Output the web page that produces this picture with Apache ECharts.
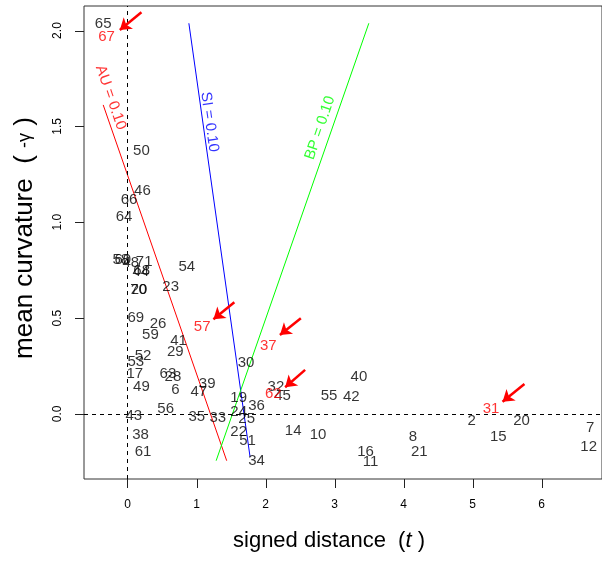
<!DOCTYPE html>
<html>
<head>
<meta charset="utf-8">
<script src="https://cdn.jsdelivr.net/npm/echarts@6/dist/echarts.min.js"></script>
<style>html,body{margin:0;padding:0;background:#fff}#c{width:602px;height:561px}</style>
</head>
<body>
<div id="c"></div>
<script>
// ---- data ----
const xTicks = [0, 1, 2, 3, 4, 5, 6];
const yTicks = [0, 0.5, 1.0, 1.5, 2.0];

const pointLabels = ['65','50','46','66','64','58','60','48','71','44','68','54','23','70','20','69','26','59','41','29','52','53','17','63','28','49','6','47','39','43','56','35','33','38','61','30','19','32','45','36','24','25','22','51','34','14','10','55','42','40','16','11','2','20','8','15','21','7','12'];
const pointX = [-0.352,0.202,0.216,0.023,-0.049,-0.097,-0.068,0.048,0.242,0.192,0.206,0.860,0.625,0.159,0.167,0.120,0.442,0.332,0.740,0.693,0.225,0.120,0.105,0.586,0.658,0.202,0.693,1.033,1.154,0.091,0.553,1.004,1.307,0.188,0.225,1.717,1.610,2.150,2.245,1.870,1.610,1.726,1.610,1.740,1.870,2.400,2.760,2.919,3.241,3.352,3.449,3.521,4.987,5.709,4.136,5.372,4.228,6.704,6.681];
const pointY = [2.034,1.372,1.163,1.116,1.029,0.803,0.803,0.788,0.793,0.741,0.746,0.768,0.661,0.648,0.645,0.502,0.468,0.412,0.382,0.322,0.304,0.270,0.209,0.209,0.195,0.142,0.125,0.116,0.156,-0.010,0.026,-0.017,-0.022,-0.110,-0.197,0.266,0.085,0.139,0.095,0.042,0.012,-0.026,-0.092,-0.139,-0.245,-0.089,-0.110,0.094,0.090,0.191,-0.197,-0.252,-0.037,-0.037,-0.118,-0.118,-0.200,-0.071,-0.171];

const redLabels = ['67','57','37','62','31'];
const redX = [-0.303,1.082,2.039,2.111,5.267];
const redY = [1.968,0.455,0.355,0.103,0.025];

const arrowTail = [[0.202,2.095],[1.548,0.583],[2.511,0.499],[2.573,0.230],[5.750,0.156]];
const arrowTip  = [[-0.111,2.003],[1.245,0.494],[2.208,0.412],[2.284,0.139],[5.433,0.064]];

const auLine = [[-0.352,1.612],[1.437,-0.244]];
const siLine = [[0.889,2.038],[1.775,-0.223]];
const bpLine = [[3.496,2.038],[1.284,-0.244]];

const lineLabelText = ['AU = 0.10','SI = 0.10','BP = 0.10'];
const lineLabelX = [-0.244,1.188,2.789];
const lineLabelY = [1.651,1.523,1.492];
const lineLabelRot = [-71,-82,71];
const lineColors = ['#FF0000','#0000FF','#00FF00'];

// ---- layout ----
const FONT = 'Liberation Sans, Arial, Helvetica, sans-serif';
const G = {left: 84, top: 6, width: 520, height: 473};
const xMin = -0.63, xScale = 69.3;
const yMax = 2.128, yScale = 191.7;
const xMax = xMin + G.width / xScale;
const yMin = yMax - G.height / yScale;
const TICK = 9;

const chart = echarts.init(document.getElementById('c'), null, {renderer:'canvas'});

const labelSeries = (labels, xs, ys, color) => ({
  type: 'scatter',
  symbolSize: 1,
  itemStyle: {color: 'rgba(0,0,0,0)'},
  data: labels.map((l, i) => ({name: l, value: [xs[i], ys[i]]})),
  label: {show: true, position: 'inside', formatter: '{b}', color: color,
          fontSize: 15, fontFamily: FONT, align: 'center', verticalAlign: 'middle'},
  emphasis: {disabled: true},
  silent: true,
  z: 5
});

const series = [
  {
    type: 'line', data: [], silent: true,
    markLine: {
      silent: true, symbol: ['none','none'], label: {show: false},
      lineStyle: {type: [4,4], color: '#000', width: 1},
      data: [{xAxis: 0}, {yAxis: 0}]
    }
  },
  {type:'line', data: auLine, symbol:'none', lineStyle:{color: lineColors[0], width:1}, silent:true},
  {type:'line', data: siLine, symbol:'none', lineStyle:{color: lineColors[1], width:1}, silent:true},
  {type:'line', data: bpLine, symbol:'none', lineStyle:{color: lineColors[2], width:1}, silent:true},
  labelSeries(pointLabels, pointX, pointY, '#000'),
  Object.assign(labelSeries(redLabels, redX, redY, '#FF0000'), {
    markLine: {
      silent: true, symbol: ['none','arrow'], symbolSize: 11, label: {show: false},
      lineStyle: {type: 'solid', color: '#FF0000', width: 2.5},
      itemStyle: {color: '#FF0000'},
      data: arrowTail.map((t, i) => [{coord: t}, {coord: arrowTip[i]}])
    }
  }),
  {
    type: 'scatter', symbolSize: 1, itemStyle: {color: 'rgba(0,0,0,0)'}, silent: true,
    data: lineLabelText.map((t, i) => ({
      name: t, value: [lineLabelX[i], lineLabelY[i]],
      label: {rotate: lineLabelRot[i], color: lineColors[i]}
    })),
    label: {show: true, position: 'inside', formatter: '{b}', fontSize: 15, fontFamily: FONT,
            align: 'center', verticalAlign: 'middle'}
  }
];

const titles = [
  {type: 'text', x: 329, y: 541, silent: true,
   style: {text: 'signed distance  ({i|t} )', fontSize: 22, fontFamily: FONT, fill: '#000',
           align: 'center', verticalAlign: 'middle',
           rich: {i: {fontStyle: 'italic', fontSize: 22, fontFamily: FONT}}}},
  {type: 'text', x: 25, y: 238, rotation: Math.PI / 2, silent: true,
   style: {text: 'mean curvature  ( {g|-γ} )', fontSize: 26, fontFamily: FONT, fill: '#000',
           align: 'center', verticalAlign: 'middle',
           rich: {g: {fontSize: 18, fontFamily: FONT}}}}
];

chart.setOption({
  animation: false,
  backgroundColor: '#fff',
  grid: Object.assign({show: true, borderColor: '#333', borderWidth: 1, backgroundColor: 'transparent'}, G),
  xAxis: {
    type: 'value', min: xMin, max: xMax,
    axisLine: {show: false, onZero: false},
    splitLine: {show: false},
    axisTick: {show: false},
    axisLabel: {show: true, customValues: xTicks, margin: 20, fontSize: 12, fontFamily: FONT, color: '#000'}
  },
  yAxis: {
    type: 'value', min: yMin, max: yMax,
    axisLine: {show: false, onZero: false},
    splitLine: {show: false},
    axisTick: {show: false},
    axisLabel: {show: true, customValues: yTicks, rotate: 90, margin: 20, fontSize: 12, fontFamily: FONT, color: '#000',
                formatter: v => v.toFixed(1)}
  },
  graphic: titles,
  series: series
});

// tick marks as thin filled rectangles, positioned through the chart's own scales
const tickEls = [];
const px = v => chart.convertToPixel({gridIndex: 0}, v);
xTicks.forEach(v => {
  const p = px([v, yMin]);
  tickEls.push({type: 'rect', silent: true, z: 50,
                shape: {x: Math.round(p[0]), y: Math.round(p[1]), width: 1, height: TICK},
                style: {fill: '#222'}});
});
yTicks.forEach(v => {
  const p = px([xMin, v]);
  tickEls.push({type: 'rect', silent: true, z: 50,
                shape: {x: Math.round(p[0]) - TICK, y: Math.round(p[1]), width: TICK, height: 1},
                style: {fill: '#222'}});
});
chart.setOption({graphic: titles.concat(tickEls)});
</script>
</body>
</html>
